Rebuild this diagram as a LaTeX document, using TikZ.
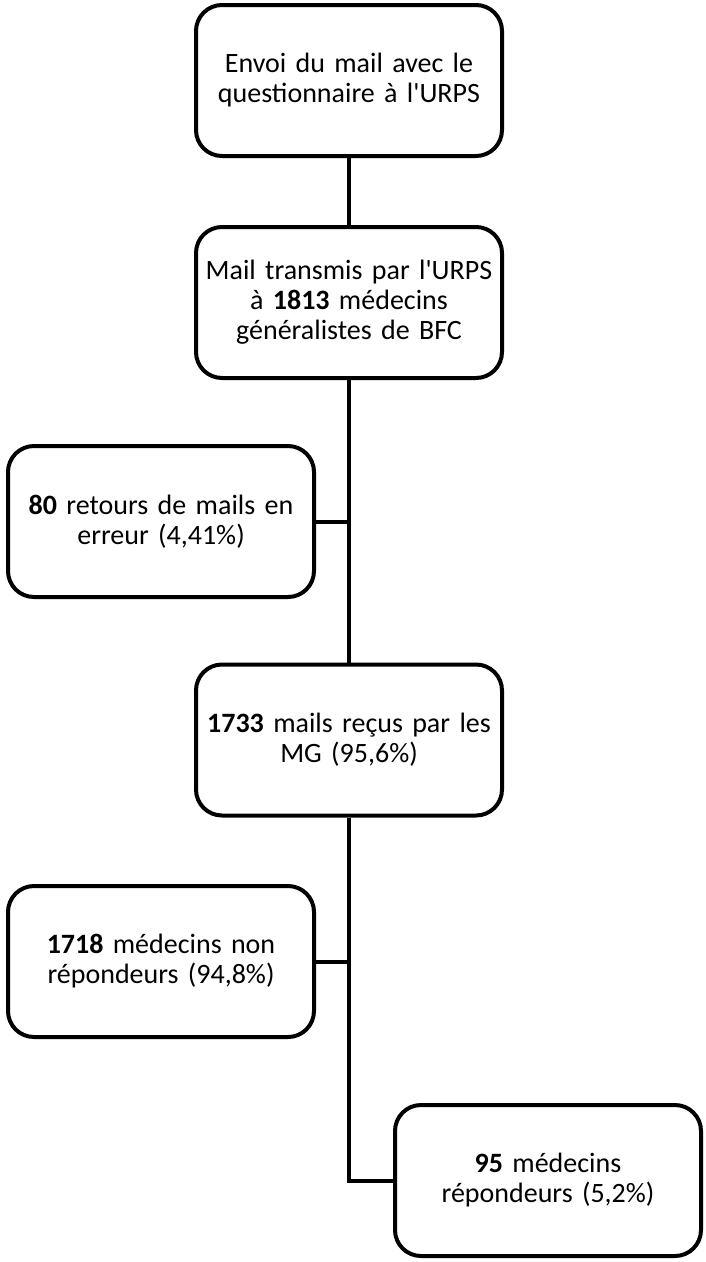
\documentclass[tikz,border=0pt]{standalone}
\usepackage{fontspec}
\setmainfont{Carlito}[Ligatures=TeXOff]
\begin{document}
\begin{tikzpicture}[x=1pt,y=1pt,
  box/.style={draw=black, line width=4pt, rounded corners=26pt, fill=white,
    minimum width=306pt, minimum height=151pt, inner sep=0pt,
    text width=304pt, align=center,
    font=\fontsize{28pt}{30pt}\selectfont},
  conn/.style={draw=black, line width=4pt}]
\useasboundingbox (0,0) rectangle (706,-1262);
\node[box] (b1) at (349,-80.5) {Envoi du mail avec le\\questionnaire à l'URPS};
\node[box] (b2) at (349,-302.5) {Mail transmis par l'URPS\\à \textbf{1813} médecins\\généralistes de BFC};
\node[box] (b3) at (161,-521.5) {\textbf{80} retours de mails en\\erreur (4,41\%)};
\node[box] (b4) at (349,-740) {\textbf{1733} mails reçus par les\\MG (95,6\%)};
\node[box] (b5) at (161,-961.5) {\textbf{1718} médecins non\\répondeurs (94,8\%)};
\node[box] (b6) at (548,-1180.5) {\textbf{95} médecins\\répondeurs (5,2\%)};
\coordinate (j1) at (b3.east -| b2.south);
\coordinate (j2) at (b5.east -| b4.south);
\coordinate (j3) at (b6.west -| b4.south);
\draw[conn] (b1.south) -- (b2.north);
\draw[conn] (b2.south) -- (b4.north);
\draw[conn] (b3.east) -- (j1);
\draw[conn] (b5.east) -- (j2);
\draw[conn, line join=miter] (b4.south) -- (j3) -- (b6.west);
\end{tikzpicture}
\end{document}
